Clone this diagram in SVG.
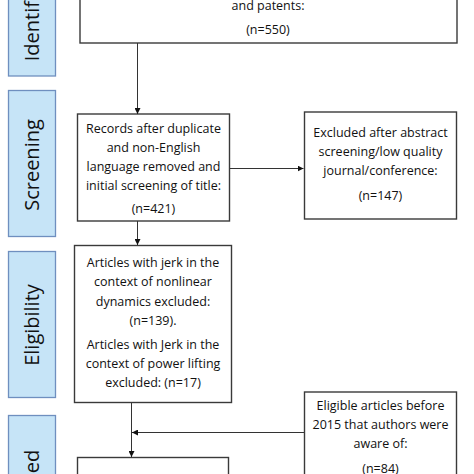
<svg xmlns="http://www.w3.org/2000/svg" width="474" height="474" viewBox="0 0 474 474">
<style>
.side{fill:#c6e4f7;stroke:#6f8fbf;stroke-width:1.3}
.box{fill:#fff;stroke:#3a3a3a;stroke-width:1.4}
.t{font-family:"Open Sans","Liberation Sans",sans-serif;font-size:12.5px;fill:#111;text-anchor:middle}
.st{font-family:"Open Sans","Liberation Sans",sans-serif;font-size:20px;fill:#111;text-anchor:middle}
.c{stroke:#333;stroke-width:1;fill:none;marker-end:url(#ah)}
</style>
<defs>
<marker id="ah" markerWidth="6" markerHeight="6" refX="6" refY="3" orient="auto" markerUnits="userSpaceOnUse">
<path d="M0,0 L6,3 L0,6 z" fill="#111"/>
</marker>
</defs>
<rect width="474" height="474" fill="#fff"/>
<g id="side-identification"><rect class="side" x="8.5" y="-72" width="47" height="148"/><text class="st" transform="translate(39,0) rotate(-90)">Identification</text></g>
<g id="side-screening"><rect class="side" x="8.5" y="90.5" width="47" height="146"/><text class="st" transform="translate(39,165) rotate(-90)">Screening</text></g>
<g id="side-eligibility"><rect class="side" x="8.5" y="251.5" width="47" height="146"/><text class="st" transform="translate(39,325) rotate(-90)">Eligibility</text></g>
<g id="side-included"><rect class="side" x="8.5" y="415.5" width="47" height="146"/><text class="st" transform="translate(39,490) rotate(-90)">Included</text></g>
<g id="identified"><rect class="box" x="80" y="-60" width="377" height="103"/><text class="t" x="268" y="10">and patents:</text><text class="t" x="268" y="34">(n=550)</text></g>
<g id="records"><rect class="box" x="77.5" y="114" width="152" height="107"/>
<text class="t" x="153.5" y="133">Records after duplicate</text>
<text class="t" x="153.5" y="152">and non-English</text>
<text class="t" x="153.5" y="171">language removed and</text>
<text class="t" x="153.5" y="190">initial screening of title:</text>
<text class="t" x="153.5" y="213">(n=421)</text></g>
<g id="excluded"><rect class="box" x="304.5" y="112" width="152" height="107"/>
<text class="t" x="380.5" y="137">Excluded after abstract</text>
<text class="t" x="380.5" y="156">screening/low quality</text>
<text class="t" x="380.5" y="175">journal/conference:</text>
<text class="t" x="380.5" y="200">(n=147)</text></g>
<g id="articles"><rect class="box" x="74.5" y="245.5" width="157" height="157"/>
<text class="t" x="153" y="267">Articles with jerk in the</text>
<text class="t" x="153" y="286">context of nonlinear</text>
<text class="t" x="153" y="306">dynamics excluded:</text>
<text class="t" x="153" y="325">(n=139).</text>
<text class="t" x="153" y="349">Articles with Jerk in the</text>
<text class="t" x="153" y="368">context of power lifting</text>
<text class="t" x="153" y="387">excluded: (n=17)</text></g>
<g id="eligible"><rect class="box" x="304.5" y="392" width="152" height="110"/>
<text class="t" x="380.5" y="410">Eligible articles before</text>
<text class="t" x="380.5" y="429">2015 that authors were</text>
<text class="t" x="380.5" y="448">aware of:</text>
<text class="t" x="380.5" y="473">(n=84)</text></g>
<g id="included"><rect class="box" x="77.5" y="457.5" width="151" height="60"/></g>
<g id="connectors">
<line class="c" x1="137.5" y1="43" x2="137.5" y2="114"/>
<line class="c" x1="230" y1="168.5" x2="303.5" y2="168.5"/>
<line class="c" x1="137.5" y1="221" x2="137.5" y2="245"/>
<line class="c" x1="131.5" y1="403" x2="131.5" y2="457"/>
<line class="c" x1="304" y1="432.5" x2="132" y2="432.5"/>
</g>
</svg>
